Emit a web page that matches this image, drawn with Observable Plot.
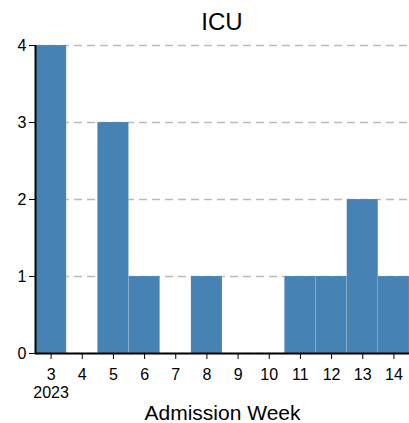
<!DOCTYPE html>
<html>
<head>
<meta charset="utf-8">
<script src="https://cdn.jsdelivr.net/npm/d3@7"></script>
<script src="https://cdn.jsdelivr.net/npm/@observablehq/plot@0.6"></script>
<style>
  html, body { margin: 0; padding: 0; background: #fff; }
  body { width: 409px; height: 423px; overflow: hidden; font-family: "Liberation Sans", Arial, sans-serif; }
  #title { height: 36px; line-height: 44px; font-size: 24px; text-align: center; padding-left: 35px; color: #000; box-sizing: border-box; width: 409px; overflow: visible; }
  svg { display: block; }
  g[aria-label="x-axis label"] text { font-size: 21px; }
</style>
</head>
<body>
<div id="title">ICU</div>
<div id="chart"></div>
<script>
const weeks = [3, 4, 5, 6, 7, 8, 9, 10, 11, 12, 13, 14];
const counts = [4, 0, 3, 1, 0, 1, 0, 0, 1, 1, 2, 1];
const yTicks = [0, 1, 2, 3, 4];
const yearLabel = "2023";

const data = weeks.map((w, i) => ({week: w, count: counts[i]}));

const chart = Plot.plot({
  width: 409,
  height: 387,
  marginLeft: 35,
  marginRight: 0,
  marginTop: 9,
  marginBottom: 70,
  style: {fontFamily: "Liberation Sans, Arial, sans-serif", fontSize: "16px", color: "#000", background: "#fff"},
  x: {domain: [2.5, 14.5]},
  y: {domain: [0, 4]},
  marks: [
    Plot.gridY(yTicks, {stroke: "#bbbbbb", strokeOpacity: 1, strokeDasharray: "8,5", strokeWidth: 1.5}),
    Plot.rectY(data, {
      x1: d => d.week - 0.5,
      x2: d => d.week + 0.5,
      y: "count",
      fill: "#4682b4",
      stroke: "#ffffff",
      strokeOpacity: 0.2,
      strokeWidth: 0.6
    }),
    Plot.axisY(yTicks, {tickSize: 6, tickPadding: 3, label: null, fontSize: 16, stroke: "#000", tickFormat: d3.format("d")}),
    Plot.axisX(weeks, {
      tickSize: 6,
      tickPadding: 8,
      fontSize: 16,
      lineHeight: 1.1,
      tickFormat: d => d === weeks[0] ? `${d}\n${yearLabel}` : String(d),
      label: "Admission Week",
      labelAnchor: "center",
      labelArrow: "none",
      labelOffset: 66
    }),
    Plot.ruleY([0], {stroke: "#000", strokeWidth: 2}),
    Plot.ruleX([2.5], {stroke: "#000", strokeWidth: 2})
  ]
});
document.getElementById("chart").appendChild(chart);
</script>
</body>
</html>
